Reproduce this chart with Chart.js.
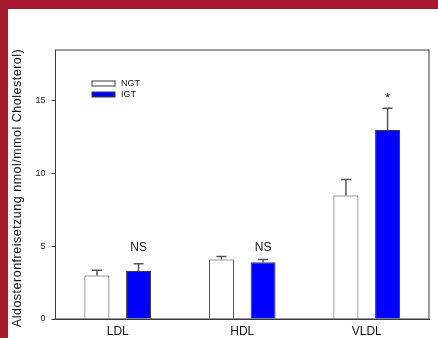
<!DOCTYPE html>
<html>
<head>
<meta charset="utf-8">
<script src="https://cdn.jsdelivr.net/npm/chart.js@4.4.1/dist/chart.umd.min.js"></script>
<style>
  html, body { margin: 0; padding: 0; background: #fff; }
  #wrap {
    position: absolute; left: 0; top: 0;
    width: 430px; height: 329px;
    border-top: 9px solid #A6182D;
    border-left: 8px solid #A6182D;
  }
  canvas { display: block; }
</style>
</head>
<body>
<div id="wrap"><canvas id="chart" width="430" height="329"></canvas></div>
<script>
// data
const categories = ['LDL', 'HDL', 'VLDL'];
const ngtValues = [3.0, 4.1, 8.5];
const ngtErrors = [0.35, 0.2, 1.1];
const igtValues = [3.3, 3.9, 13.0];
const igtErrors = [0.5, 0.2, 1.5];
const yTicks = [0, 5, 10, 15];
const marks = ['NS', 'NS', '*'];
const markLevels = [4.9, 4.9, 15.2];
const yTitle = 'Aldosteronfreisetzung nmol/mmol Cholesterol)';

const FONT = '"Liberation Sans", Arial, sans-serif';
const EDGE = '#3a3a3a';

// upward error bars with a cap
const errorBars = {
  id: 'errorBars',
  afterDatasetsDraw(chart) {
    const ctx = chart.ctx;
    const y = chart.scales.y;
    ctx.save();
    ctx.strokeStyle = '#555';
    ctx.lineWidth = 1.5;
    chart.data.datasets.forEach((ds, i) => {
      const meta = chart.getDatasetMeta(i);
      meta.data.forEach((bar, j) => {
        const top = y.getPixelForValue(ds.data[j] + ds.errors[j]);
        const base = y.getPixelForValue(ds.data[j]);
        ctx.beginPath();
        ctx.moveTo(bar.x, base);
        ctx.lineTo(bar.x, top);
        ctx.moveTo(bar.x - 5, top);
        ctx.lineTo(bar.x + 5, top);
        ctx.stroke();
      });
    });
    ctx.restore();
  }
};

// frame, NS / * labels, legend and the y title (letter-spaced like the original)
const extras = {
  id: 'extras',
  afterDraw(chart) {
    const ctx = chart.ctx;
    const a = chart.chartArea;
    const y = chart.scales.y;
    ctx.save();

    // frame
    ctx.strokeStyle = EDGE;
    ctx.lineWidth = 1;
    ctx.strokeRect(a.left, a.top, a.right - a.left, a.bottom - a.top);

    // significance marks
    const igt = chart.getDatasetMeta(1);
    ctx.fillStyle = '#111';
    ctx.textAlign = 'center';
    ctx.textBaseline = 'middle';
    marks.forEach((m, j) => {
      ctx.font = (m === '*' ? '13px ' : '12px ') + FONT;
      ctx.fillText(m, igt.data[j].x, y.getPixelForValue(markLevels[j]));
    });

    // legend
    ctx.font = '9px ' + FONT;
    ctx.textAlign = 'left';
    chart.data.datasets.forEach((ds, i) => {
      const bx = a.left + 36.5;
      const by = a.top + 31 + i * 11;
      ctx.fillStyle = ds.backgroundColor;
      ctx.fillRect(bx, by, 23, 5);
      ctx.strokeStyle = EDGE;
      ctx.strokeRect(bx, by, 23, 5);
      ctx.fillStyle = '#111';
      ctx.fillText(ds.label, bx + 29, by + 2.5);
    });

    // y title
    ctx.translate(10, 179);
    ctx.rotate(-Math.PI / 2);
    ctx.font = '12.5px ' + FONT;
    ctx.letterSpacing = '0.5px';
    ctx.textAlign = 'center';
    ctx.fillStyle = '#111';
    ctx.fillText(yTitle, 0, 0);
    ctx.restore();
  }
};

new Chart(document.getElementById('chart'), {
  type: 'bar',
  data: {
    labels: categories,
    datasets: [
      {
        label: 'NGT',
        data: ngtValues,
        errors: ngtErrors,
        backgroundColor: '#ffffff',
        borderColor: EDGE,
        borderWidth: 1
      },
      {
        label: 'IGT',
        data: igtValues,
        errors: igtErrors,
        backgroundColor: '#0000ff',
        borderColor: EDGE,
        borderWidth: 1
      }
    ]
  },
  options: {
    responsive: false,
    animation: false,
    devicePixelRatio: 1,
    categoryPercentage: 0.669,
    barPercentage: 0.6,
    layout: { padding: { top: 41, right: 9, left: 0, bottom: 0 } },
    plugins: {
      legend: { display: false },
      tooltip: { enabled: false }
    },
    scales: {
      x: {
        grid: { display: false, drawTicks: false },
        border: { display: true, color: EDGE, width: 1 },
        ticks: { color: '#111', font: { family: FONT, size: 12 }, padding: 5 },
        afterFit(scale) { scale.height = 19; }
      },
      y: {
        min: 0,
        max: 18.5,
        afterBuildTicks(scale) {
          scale.ticks = yTicks.map(v => ({ value: v }));
        },
        grid: {
          drawOnChartArea: false,
          tickLength: 4,
          color: EDGE
        },
        border: { display: true, color: EDGE, width: 1 },
        ticks: { color: '#111', font: { family: FONT, size: 9 }, padding: 6 },
        afterFit(scale) { scale.width = 47.5; }
      }
    }
  },
  plugins: [errorBars, extras]
});
</script>
</body>
</html>
